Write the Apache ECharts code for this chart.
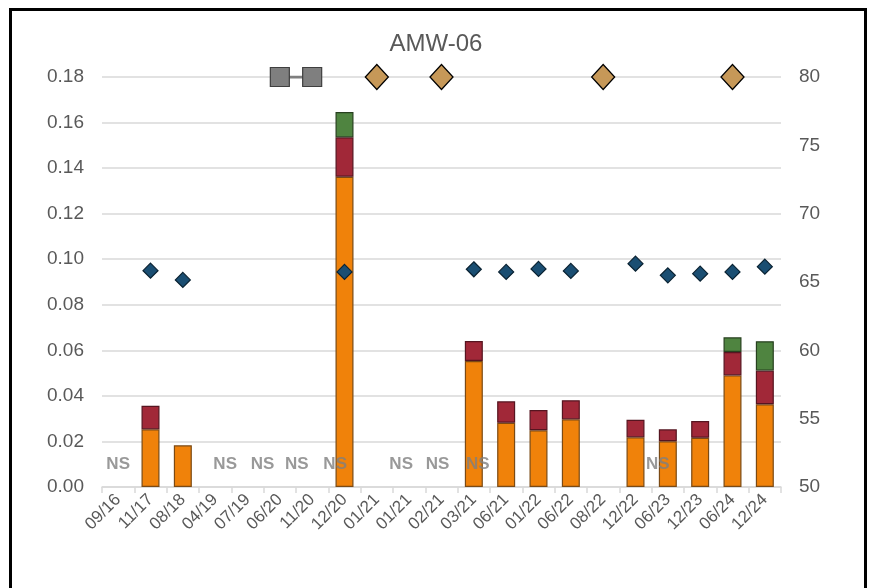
<!DOCTYPE html>
<html>
<head>
<meta charset="utf-8">
<script src="https://cdn.jsdelivr.net/npm/echarts@6/dist/echarts.min.js"></script>
<style>
html,body{margin:0;padding:0;background:#fff;}
#frame{position:absolute;left:9px;top:8px;width:858px;height:600px;border:3px solid #000;box-sizing:border-box;}
#chart{position:absolute;left:0;top:0;width:872px;height:588px;}
</style>
</head>
<body>
<div id="frame"></div>
<div id="chart"></div>
<script>
const categories = ['09/16','11/17','08/18','04/19','07/19','06/20','11/20','12/20','01/21','01/21','02/21','03/21','06/21','01/22','06/22','08/22','12/22','06/23','12/23','06/24','12/24'];
const orangeVals = [null,0.0253,0.0183,null,null,null,null,0.1362,null,null,null,0.0553,0.0282,0.0249,0.0297,null,0.0218,0.0201,0.0216,0.0490,0.0363];
const redVals    = [null,0.0104,null,null,null,null,null,0.0173,null,null,null,0.0088,0.0094,0.0089,0.0084,null,0.0077,0.0052,0.0074,0.0103,0.0148];
const greenVals  = [null,null,null,null,null,null,null,0.0111,null,null,null,null,null,null,null,null,null,null,null,0.0064,0.0129];
const blueVals   = [null,65.83,65.15,null,null,null,null,65.74,null,null,null,65.93,65.74,65.96,65.81,null,66.34,65.49,65.61,65.74,66.12];
const grayTop    = [null,null,null,null,null,80,80,null,null,null,null,null,null,null,null,null,null,null,null,null,null];
const tanTop     = [null,null,null,null,null,null,null,null,80,null,80,null,null,null,null,80,null,null,null,80,null];
const nsLabels   = ['NS',null,null,'NS','NS','NS','NS',null,null,'NS','NS','NS',null,null,null,null,null,'NS',null,null,null];
const nsValue = 0.0101;
const leftTicks = {min:0, max:0.18, interval:0.02};
const rightTicks = {min:50, max:80, interval:5};

// label horizontal nudges for NS text (style only)
const nsNudge = [0,0,0,10,15,17,23,0,0,-8,-4,4,0,0,0,0,0,-10,0,0,0];

const chart = echarts.init(document.getElementById('chart'), null, {renderer:'canvas'});
const font = 'Liberation Sans, Arial, sans-serif';
const txt = '#595959';

const nsData = nsLabels.map((l,i)=> l ? {value:[i,nsValue], label:{offset:[nsNudge[i],0]}} : null).filter(d=>d);

chart.setOption({
  animation:false,
  textStyle:{fontFamily:font},
  title:{text:'AMW-06', left:'center', top:27, textStyle:{fontFamily:font, fontSize:24, fontWeight:'normal', color:txt}},
  grid:{left:102, right:91, top:77, bottom:101},
  xAxis:{type:'category', data:categories,
    axisLine:{lineStyle:{color:'#d9d9d9', width:1.5}},
    axisTick:{show:true, length:6, lineStyle:{color:'#d9d9d9', width:1.5}},
    axisLabel:{rotate:45, fontSize:17, color:txt, margin:10, interval:0, fontFamily:font}
  },
  yAxis:[
    {type:'value', min:leftTicks.min, max:leftTicks.max, interval:leftTicks.interval,
      axisLabel:{fontSize:19, color:txt, margin:18, formatter:v=>v.toFixed(2), fontFamily:font},
      splitLine:{lineStyle:{color:'#d9d9d9', width:1.5}}, axisLine:{show:false}, axisTick:{show:false}},
    {type:'value', min:rightTicks.min, max:rightTicks.max, interval:rightTicks.interval,
      axisLabel:{fontSize:19, color:txt, margin:18, fontFamily:font},
      splitLine:{show:false}, axisLine:{show:false}, axisTick:{show:false}}
  ],
  series:[
    {type:'bar', stack:'s', data:orangeVals, barWidth:18, itemStyle:{color:'#F0820A', borderColor:'#7B4A14', borderWidth:1.2}},
    {type:'bar', stack:'s', data:redVals, barWidth:18, itemStyle:{color:'#A12838', borderColor:'#561520', borderWidth:1.2}},
    {type:'bar', stack:'s', data:greenVals, barWidth:18, itemStyle:{color:'#4F8440', borderColor:'#27401F', borderWidth:1.2}},
    {type:'scatter', yAxisIndex:1, data:blueVals, symbol:'diamond', symbolSize:15, z:5,
      itemStyle:{color:'#1A4E72', borderColor:'#0A2232', borderWidth:1.2, opacity:1}},
    {type:'line', yAxisIndex:1, data:grayTop, symbol:'rect', symbolSize:19, z:5, connectNulls:false,
      lineStyle:{color:'#7F7F7F', width:3}, itemStyle:{color:'#7F7F7F', borderColor:'#3F3F3F', borderWidth:1.2}},
    {type:'scatter', yAxisIndex:1, data:tanTop, symbol:'diamond', symbolSize:[23,25], z:5,
      itemStyle:{color:'#C69858', borderColor:'#000', borderWidth:1.3, opacity:1}},
    {type:'scatter', data:nsData, symbolSize:0, z:6,
      label:{show:true, position:'inside', formatter:'NS', fontSize:17, fontWeight:'bold', color:'#7F7F7F', fontFamily:font}}
  ]
});
</script>
</body>
</html>
